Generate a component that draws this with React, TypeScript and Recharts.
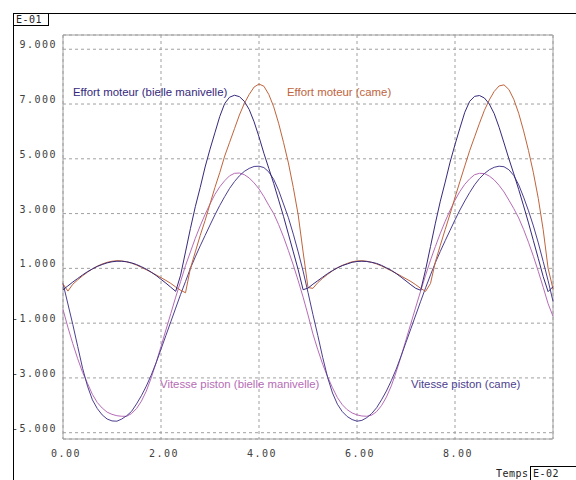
import {
  CartesianGrid,
  Line,
  LineChart,
  ReferenceArea,
  XAxis,
  YAxis,
} from "recharts";

// temps (x E-02), pas de 0.1
const time = [
  0, 0.1, 0.2, 0.3, 0.4, 0.5, 0.6, 0.7, 0.8, 0.9,
  1, 1.1, 1.2, 1.3, 1.4, 1.5, 1.6, 1.7, 1.8, 1.9,
  2, 2.1, 2.2, 2.3, 2.4, 2.5, 2.6, 2.7, 2.8, 2.9,
  3, 3.1, 3.2, 3.3, 3.4, 3.5, 3.6, 3.7, 3.8, 3.9,
  4, 4.1, 4.2, 4.3, 4.4, 4.5, 4.6, 4.7, 4.8, 4.9,
  5, 5.1, 5.2, 5.3, 5.4, 5.5, 5.6, 5.7, 5.8, 5.9,
  6, 6.1, 6.2, 6.3, 6.4, 6.5, 6.6, 6.7, 6.8, 6.9,
  7, 7.1, 7.2, 7.3, 7.4, 7.5, 7.6, 7.7, 7.8, 7.9,
  8, 8.1, 8.2, 8.3, 8.4, 8.5, 8.6, 8.7, 8.8, 8.9,
  9, 9.1, 9.2, 9.3, 9.4, 9.5, 9.6, 9.7, 9.8, 9.9,
  10,
];

// valeurs x E-01
const effortBielle = [
  0.22, 0.36, 0.5, 0.63, 0.76, 0.88, 0.98, 1.07, 1.14, 1.2,
  1.24, 1.26, 1.26, 1.24, 1.2, 1.14, 1.06, 0.97, 0.86, 0.74,
  0.6, 0.46, 0.31, 0.16, 0.75, 1.6, 2.45, 3.25, 3.95, 4.7,
  5.35, 5.95, 6.55, 7.02, 7.25, 7.32, 7.27, 7.1, 6.8, 6.35,
  5.8, 5.2, 4.65, 4.1, 3.5, 2.9, 2.25, 1.6, 0.95, 0.22,
  0.28, 0.42, 0.55, 0.68, 0.81, 0.92, 1.02, 1.1, 1.16, 1.22,
  1.25, 1.26, 1.25, 1.22, 1.18, 1.11, 1.02, 0.93, 0.81, 0.68,
  0.54, 0.4, 0.27, 0.2, 0.95, 1.8, 2.65, 3.45, 4.15, 4.88,
  5.52, 6.12, 6.7, 7.1, 7.28, 7.31, 7.22, 7.0, 6.65, 6.15,
  5.58, 5.0, 4.45, 3.88, 3.28, 2.66, 2.01, 1.36, 0.7, 0.15,
  0.33,
];

const effortCame = [
  0.43, 0.17, 0.42, 0.58, 0.73, 0.86, 0.98, 1.08, 1.16, 1.22,
  1.26, 1.28, 1.27, 1.24, 1.19, 1.12, 1.04, 0.95, 0.86, 0.76,
  0.66, 0.56, 0.45, 0.32, 0.2, 0.11, 1.0, 1.6, 2.2, 2.75,
  3.35, 3.95, 4.5, 5.1, 5.6, 6.1, 6.6, 7.02, 7.35, 7.62,
  7.73, 7.65, 7.35, 6.9, 6.3, 5.6, 4.85, 3.95, 2.95, 1.6,
  0.3, 0.27, 0.48, 0.64, 0.78, 0.91, 1.02, 1.11, 1.18, 1.24,
  1.27, 1.28, 1.26, 1.22, 1.16, 1.09, 1.0, 0.91, 0.82, 0.72,
  0.62, 0.52, 0.4, 0.27, 0.16, 0.45, 1.24, 1.84, 2.42, 2.99,
  3.59, 4.17, 4.74, 5.3, 5.8, 6.3, 6.77, 7.15, 7.46, 7.66,
  7.7, 7.53, 7.17, 6.66, 6.02, 5.3, 4.49, 3.55, 2.41, 1.0,
  0.25,
];

const vitesseBielle = [
  -0.5, -1.15, -1.75, -2.3, -2.8, -3.2, -3.6, -3.9, -4.1, -4.25,
  -4.33, -4.38, -4.4, -4.4, -4.3, -4.12, -3.85, -3.48, -3.0, -2.45,
  -1.85, -1.25, -0.65, -0.05, 0.52, 1.1, 1.6, 2.1, 2.55, 2.97,
  3.35, 3.7, 3.98, 4.2, 4.38, 4.47, 4.48, 4.42, 4.3, 4.12,
  3.9, 3.62, 3.3, 3.0, 2.6, 2.15, 1.65, 1.12, 0.55, -0.05,
  -0.7, -1.39, -1.97, -2.5, -2.96, -3.36, -3.72, -3.98, -4.16, -4.28,
  -4.35, -4.39, -4.4, -4.36, -4.23, -4.01, -3.7, -3.29, -2.78, -2.21,
  -1.61, -1.01, -0.41, 0.18, 0.75, 1.3, 1.8, 2.28, 2.72, 3.12,
  3.49, 3.81, 4.07, 4.27, 4.42, 4.47, 4.46, 4.37, 4.23, 4.03,
  3.79, 3.49, 3.18, 2.84, 2.42, 1.95, 1.44, 0.89, 0.31, -0.29,
  -0.75,
];

const vitesseCame = [
  0.45, -0.3, -1.05, -1.85, -2.65, -3.3, -3.8, -4.12, -4.35, -4.5,
  -4.57, -4.58, -4.5, -4.38, -4.22, -3.95, -3.65, -3.3, -2.9, -2.45,
  -1.95, -1.45, -0.95, -0.45, 0.05, 0.52, 1.0, 1.42, 1.82, 2.2,
  2.58, 2.95, 3.3, 3.62, 3.92, 4.17, 4.38, 4.54, 4.65, 4.72,
  4.73, 4.68, 4.52, 4.25, 3.85, 3.35, 2.85, 2.25, 1.6, 0.9,
  0.12, -0.68, -1.45, -2.25, -2.98, -3.55, -3.96, -4.23, -4.41, -4.52,
  -4.58, -4.55, -4.45, -4.3, -4.09, -3.8, -3.48, -3.1, -2.68, -2.2,
  -1.7, -1.2, -0.7, -0.2, 0.29, 0.76, 1.21, 1.62, 2.01, 2.39,
  2.77, 3.13, 3.46, 3.77, 4.05, 4.28, 4.46, 4.6, 4.69, 4.73,
  4.71, 4.6, 4.39, 4.05, 3.6, 3.1, 2.55, 1.93, 1.25, 0.55,
  -0.2,
];

const xTicks = [0, 2, 4, 6, 8];
const yTicks = [-5, -3, -1, 1, 3, 5, 7, 9];
const yMin = -5.23;
const yMax = 9.52;

const data = time.map((t, i) => ({
  t,
  eb: effortBielle[i],
  ec: effortCame[i],
  vb: vitesseBielle[i],
  vc: vitesseCame[i],
}));

const mono = "'DejaVu Sans Mono', 'Liberation Mono', monospace";
const sans = "'Liberation Sans', Arial, sans-serif";

const C_EB = "#36297c";
const C_EC = "#c0643c";
const C_VB = "#b66cb6";
const C_VC = "#4c3e90";

export default function App() {
  return (
    <div
      style={{
        position: "absolute",
        left: 0,
        top: 0,
        width: 576,
        height: 480,
        background: "#fff",
        overflow: "hidden",
      }}
    >
      <LineChart
        width={576}
        height={480}
        data={data}
        margin={{ top: 35, right: 23, bottom: 0, left: 0 }}
      >
        <CartesianGrid stroke="#a0a0a0" strokeDasharray="3 3" />
        <XAxis
          dataKey="t"
          type="number"
          domain={[0, 10]}
          ticks={xTicks}
          height={41}
          axisLine={false}
          tickLine={false}
          tick={(p: any) => (
            <text
              x={p.x + 3}
              y={457}
              textAnchor="middle"
              fontFamily={mono}
              fontSize={10}
              letterSpacing={1.5}
              fill="#404040"
            >
              {Number(p.payload.value).toFixed(2)}
            </text>
          )}
        />
        <YAxis
          type="number"
          domain={[yMin, yMax]}
          ticks={yTicks}
          allowDataOverflow
          width={63}
          axisLine={false}
          tickLine={false}
          tick={(p: any) => (
            <text
              x={57}
              y={p.y - 1}
              textAnchor="end"
              fontFamily={mono}
              fontSize={10}
              letterSpacing={1.5}
              fill="#404040"
            >
              {Number(p.payload.value).toFixed(3)}
            </text>
          )}
        />
        <ReferenceArea
          x1={0}
          x2={10}
          y1={yMin}
          y2={yMax}
          fill="none"
          stroke="#a0a0a0"
          strokeWidth={1}
        />
        <Line dataKey="vb" type="linear" stroke={C_VB} strokeWidth={1} dot={false} isAnimationActive={false} />
        <Line dataKey="vc" type="linear" stroke={C_VC} strokeWidth={1} dot={false} isAnimationActive={false} />
        <Line dataKey="ec" type="linear" stroke={C_EC} strokeWidth={1} dot={false} isAnimationActive={false} />
        <Line dataKey="eb" type="linear" stroke={C_EB} strokeWidth={1} dot={false} isAnimationActive={false} />
      </LineChart>
      <svg
        width={576}
        height={480}
        style={{ position: "absolute", left: 0, top: 0, pointerEvents: "none" }}
      >
        <line x1={13.5} y1={13.5} x2={576} y2={13.5} stroke="#000" />
        <line x1={13.5} y1={13.5} x2={13.5} y2={480} stroke="#000" />
        <rect x={13.5} y={13.5} width={35} height={12} fill="#fff" stroke="#000" />
        <text x={16} y={23} fontFamily={mono} fontSize={10} letterSpacing={0.5} fill="#222">
          E-01
        </text>
        <text x={496} y={477} fontFamily={mono} fontSize={10} letterSpacing={0.5} fill="#222">
          Temps
        </text>
        <rect x={530.5} y={466.5} width={50} height={20} fill="#fff" stroke="#000" />
        <text x={533} y={477} fontFamily={mono} fontSize={10} letterSpacing={0.5} fill="#222">
          E-02
        </text>
        <text x={73} y={96} fontFamily={sans} fontSize={11.4} fill={C_EB}>
          Effort moteur (bielle manivelle)
        </text>
        <text x={287} y={96} fontFamily={sans} fontSize={11.4} fill={C_EC}>
          Effort moteur (came)
        </text>
        <text x={160} y={388} fontFamily={sans} fontSize={11.4} fill={C_VB}>
          Vitesse piston (bielle manivelle)
        </text>
        <text x={411} y={388} fontFamily={sans} fontSize={11.4} fill={C_VC}>
          Vitesse piston (came)
        </text>
      </svg>
    </div>
  );
}
